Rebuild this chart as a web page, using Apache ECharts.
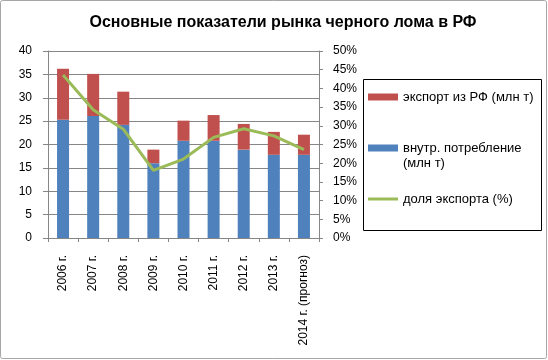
<!DOCTYPE html>
<html><head><meta charset="utf-8">
<script src="https://cdn.jsdelivr.net/npm/echarts@6/dist/echarts.min.js"></script>
<style>html,body{margin:0;padding:0;background:#fff}#c{width:548px;height:360px}</style>
</head><body><div id="c"></div>
<script>
const categories = ['2006 г.', '2007 г.', '2008 г.', '2009 г.', '2010 г.', '2011 г.', '2012 г.', '2013 г.', '2014 г. (прогноз)'];
const domestic = [25.3, 26.1, 24.2, 16.0, 20.8, 20.8, 18.9, 17.8, 17.8];
const exportVals = [10.9, 9.0, 7.1, 2.9, 4.3, 5.5, 5.5, 4.9, 4.3];
const exportShare = [0.436, 0.343, 0.291, 0.181, 0.211, 0.269, 0.292, 0.273, 0.236];
const leftTicks = [0, 40, 5];
const rightTicks = [0, 0.5, 0.05];

const chart = echarts.init(document.getElementById('c'), null, {renderer: 'canvas'});
const font = 'Arial, "Liberation Sans", sans-serif';
const gridColor = '#868686';
const nameExport = 'экспорт из РФ (млн т)';
const nameDom = 'внутр. потребление (млн т)';
const nameShare = 'доля экспорта (%)';
const legendBase = {
  orient: 'vertical', left: 368, padding: 0, itemWidth: 30, itemHeight: 7, itemGap: 0,
  textStyle: {fontFamily: font, fontSize: 13, color: '#000', lineHeight: 15},
  selectedMode: false
};
chart.setOption({
  animation: false,
  title: {
    text: 'Основные показатели рынка черного лома в РФ', left: 278, textAlign: 'center', top: 10,
    textStyle: {fontFamily: font, fontSize: 16, fontWeight: 'bold', color: '#000'}
  },
  graphic: [
    {type: 'rect', shape: {x: 0.5, y: 0.5, width: 546, height: 358, r: 2}, style: {fill: 'none', stroke: '#a6a6a6', lineWidth: 1}, z: 100},
    {type: 'rect', shape: {x: 363.5, y: 79.5, width: 178, height: 151}, style: {fill: 'none', stroke: '#000', lineWidth: 1}, z: 100}
  ],
  legend: [
    Object.assign({}, legendBase, {top: 89.5, data: [{name: nameExport, icon: 'rect'}]}),
    Object.assign({}, legendBase, {top: 125.5, data: [{name: nameDom, icon: 'rect'}],
      formatter: () => '\nвнутр. потребление\n(млн т)'}),
    Object.assign({}, legendBase, {top: 191.5, itemHeight: 3, data: [{name: nameShare, icon: 'rect', itemStyle: {color: '#9BBB59'}}]})
  ],
  grid: {left: 48, right: 229, top: 51, bottom: 122, containLabel: false},
  xAxis: {
    type: 'category', data: categories, boundaryGap: true,
    axisLine: {show: true, lineStyle: {color: gridColor}},
    axisTick: {show: true, inside: false, length: 4, lineStyle: {color: gridColor}},
    axisLabel: {rotate: 90, margin: 17, interval: 0, fontFamily: font, fontSize: 12, color: '#000'}
  },
  yAxis: [
    {type: 'value', min: leftTicks[0], max: leftTicks[1], interval: leftTicks[2],
     axisLine: {show: true, lineStyle: {color: gridColor}},
     axisTick: {show: true, length: 5, lineStyle: {color: gridColor}},
     splitLine: {show: true, lineStyle: {color: gridColor, width: 1}},
     axisLabel: {margin: 16, fontFamily: font, fontSize: 12, color: '#000'}},
    {type: 'value', min: rightTicks[0], max: rightTicks[1], interval: rightTicks[2], position: 'right',
     axisLine: {show: true, lineStyle: {color: gridColor}},
     axisTick: {show: true, length: 4, lineStyle: {color: gridColor}},
     splitLine: {show: false},
     axisLabel: {margin: 14, fontFamily: font, fontSize: 12, color: '#000',
       formatter: v => Math.round(v * 100) + '%'}}
  ],
  series: [
    {name: nameDom, type: 'bar', stack: 's', data: domestic, barWidth: 12, itemStyle: {color: '#4F81BD'}},
    {name: nameExport, type: 'bar', stack: 's', data: exportVals, barWidth: 12, itemStyle: {color: '#C0504D'}},
    {name: nameShare, type: 'line', yAxisIndex: 1, data: exportShare, symbol: 'none',
     lineStyle: {color: '#9BBB59', width: 3}, itemStyle: {color: '#9BBB59'}, z: 5}
  ]
});
</script></body></html>
